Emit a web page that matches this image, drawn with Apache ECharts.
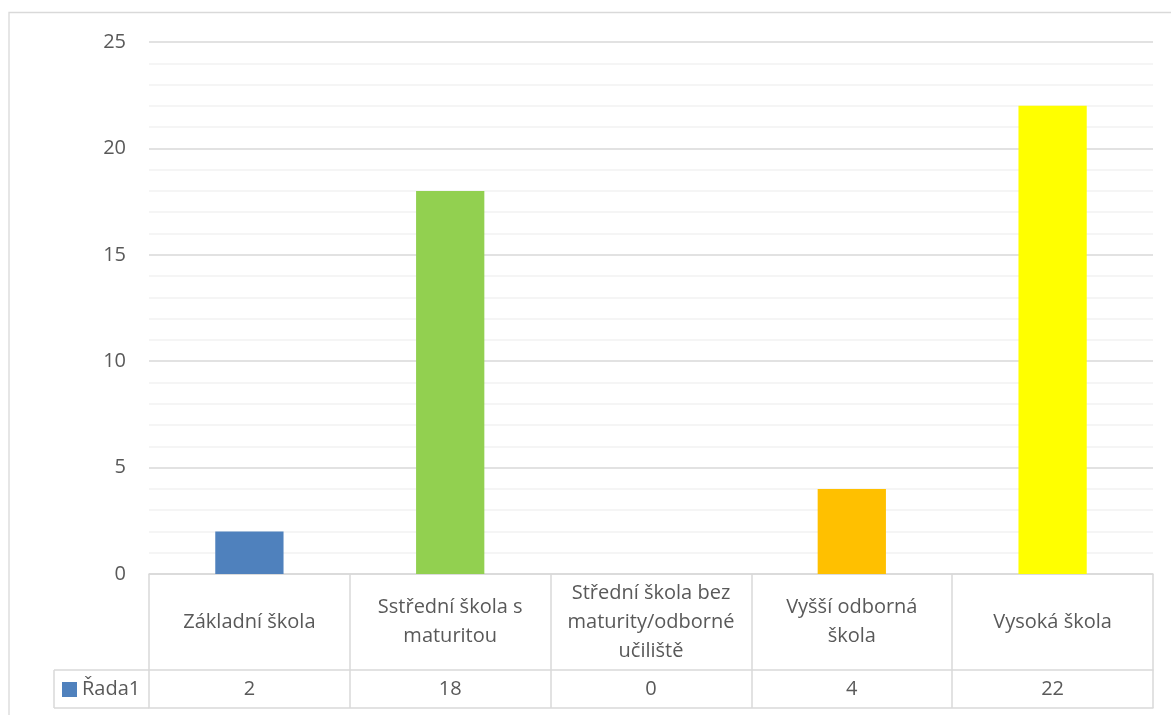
<!DOCTYPE html>
<html>
<head>
<meta charset="utf-8">
<script src="https://cdn.jsdelivr.net/npm/echarts@6/dist/echarts.min.js"></script>
<style>
  html, body { margin: 0; padding: 0; background: #ffffff; }
  #chart { width: 1171px; height: 715px; }
</style>
</head>
<body>
<div id="chart"></div>
<script>
// Education level of respondents, with a data table below the plot
const categories = [
  'Základní škola',
  'Sstřední škola s\nmaturitou',
  'Střední škola bez\nmaturity/odborné\nučiliště',
  'Vyšší odborná\nškola',
  'Vysoká škola'
];
const seriesName = 'Řada1';
const values = [2, 18, 0, 4, 22];
const barColors = ['#4f81bd', '#92d050', '#92d050', '#ffc000', '#ffff00'];
const yTicks = [0, 5, 10, 15, 20, 25];

const FONT = 'Open Sans';
const TEXT = '#595959';
const LINE = '#d9d9d9';

const chart = echarts.init(document.getElementById('chart'), null, { renderer: 'canvas' });

const option = {
  animation: false,
  backgroundColor: '#ffffff',
  grid: { left: 149, right: 18, top: 42, bottom: 141, containLabel: false },
  xAxis: [
    {
      // category row of the data table
      type: 'category',
      data: categories,
      position: 'bottom',
      axisLine: { show: true, lineStyle: { color: LINE, width: 1.5 } },
      axisTick: { show: true, length: 134, lineStyle: { color: LINE, width: 1.5 } },
      axisLabel: {
        interval: 0, margin: 48, verticalAlign: 'middle', align: 'center',
        fontFamily: FONT, fontSize: 20, lineHeight: 29, color: TEXT
      }
    },
    {
      // value row of the data table
      type: 'category',
      data: categories,
      position: 'bottom',
      offset: 96,
      axisLine: { show: true, lineStyle: { color: LINE, width: 1.5 } },
      axisTick: { show: false },
      axisLabel: {
        interval: 0, margin: 19, verticalAlign: 'middle', align: 'center',
        fontFamily: FONT, fontSize: 20, color: TEXT,
        formatter: (v, i) => String(values[i])
      }
    },
    {
      // bottom edge of the data table
      type: 'category',
      data: categories,
      position: 'bottom',
      offset: 134,
      axisLine: { show: true, lineStyle: { color: LINE, width: 1.5 } },
      axisTick: { show: false },
      axisLabel: { show: false }
    }
  ],
  yAxis: {
    type: 'value',
    min: yTicks[0],
    max: yTicks[yTicks.length - 1],
    interval: 5,
    axisLine: { show: false },
    axisTick: { show: false },
    axisLabel: { margin: 23, fontFamily: FONT, fontSize: 20, color: TEXT },
    splitLine: { show: true, lineStyle: { color: LINE, width: 1.5 } },
    minorTick: { show: false, splitNumber: 5 },
    minorSplitLine: { show: true, lineStyle: { color: '#f2f2f2', width: 1.5 } }
  },
  series: [
    {
      name: seriesName,
      type: 'bar',
      xAxisIndex: 0,
      barWidth: '34%',
      data: values.map((v, i) => ({ value: v, itemStyle: { color: barColors[i] } }))
    }
  ],
  graphic: [
    // chart area frame
    {
      type: 'rect', silent: true, z: 0,
      shape: { x: 9, y: 12.5, width: 1200, height: 800 },
      style: { fill: null, stroke: LINE, lineWidth: 1.3 }
    },
    // legend key cell of the data table
    { type: 'line', shape: { x1: 54, y1: 670, x2: 149, y2: 670 }, style: { stroke: LINE, lineWidth: 1.5 } },
    { type: 'line', shape: { x1: 54, y1: 708, x2: 149, y2: 708 }, style: { stroke: LINE, lineWidth: 1.5 } },
    { type: 'line', shape: { x1: 54, y1: 670, x2: 54, y2: 708 }, style: { stroke: LINE, lineWidth: 1.5 } },
    { type: 'rect', shape: { x: 62, y: 682, width: 15, height: 15 }, style: { fill: barColors[0] } },
    {
      type: 'text', x: 82, y: 689,
      style: { text: seriesName, fontFamily: FONT, fontSize: 20, fill: TEXT, verticalAlign: 'middle', align: 'left' }
    }
  ]
};

chart.setOption(option);
</script>
</body>
</html>
